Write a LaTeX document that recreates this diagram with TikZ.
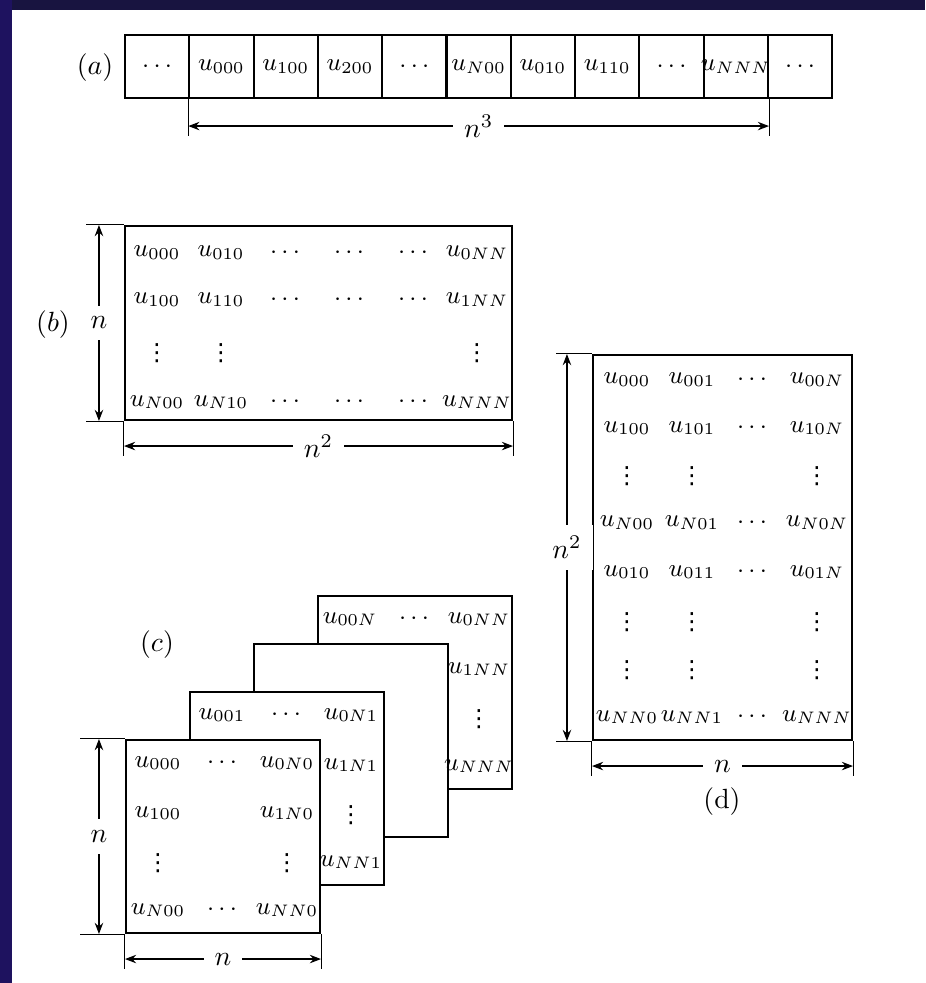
\documentclass[tikz,border=0pt]{standalone}
\usepackage{fontspec}
\newfontfamily\dejavu{DejaVu Sans}
\usetikzlibrary{arrows.meta,fit,calc}
\definecolor{navyL}{RGB}{30,18,95}
\definecolor{navyT}{RGB}{24,20,64}
\newcommand{\vd}{{\dejavu\fontsize{8.5}{10}\selectfont ⋮}}
\begin{document}
\begin{tikzpicture}[x=0.36pt,y=-0.36pt,
  box/.style={draw,line width=0.75pt,fill=white,inner sep=0pt},
  cell/.style={draw,line width=0.75pt,inner sep=0pt,minimum width=23.15pt,minimum height=22.7pt,font=\fontsize{8.6}{10}\selectfont},
  dimline/.style={line width=0.7pt,{Stealth[length=4pt,width=3pt]}-{Stealth[length=4pt,width=3pt]}},
  extline/.style={line width=0.35pt},
  dimlabel/.style={fill=white,inner sep=4pt},
  ent/.style={inner sep=0pt,font=\fontsize{9}{11}\selectfont},
  tag/.style={inner sep=0pt}]
\useasboundingbox (0,0) rectangle (925,983);
\fill[white] (0,0) rectangle (925,983);
\fill[navyT] (0,0) rectangle (925,10);
\fill[navyL] (0,0) rectangle (12,983);

% ---------------- (a)
\node[tag] (taga) at (95,68) {$(a)$};
\foreach \t [count=\i] in {\cdots,u_{000},u_{100},u_{200},\cdots,u_{N00},u_{010},u_{110},\cdots,u_{NNN},\cdots}
  \node[cell] (a\i) at ({125+64.3*(\i-0.5)},66.5) {\makebox[0pt]{$\t$}};
\draw[extline] (a2.south west) -- ++(0,37);
\draw[extline] (a10.south east) -- ++(0,37);
\draw[dimline] ($(a2.south west)+(0,27)$) -- node[dimlabel]{$n^3$} ($(a10.south east)+(0,27)$);

% ---------------- (b)
\node[box,fit={(125,226) (512,420)}] (B) {};
\node[tag] (tagb) at (53,325) {$(b)$};
\foreach \t [count=\c] in {u_{000},u_{010},\cdots,\cdots,\cdots,u_{0NN}}
  \node[ent] (b1\c) at ({157+64*(\c-1)},253) {$\t$};
\foreach \t [count=\c] in {u_{100},u_{110},\cdots,\cdots,\cdots,u_{1NN}}
  \node[ent] (b2\c) at ({157+64*(\c-1)},300) {$\t$};
\foreach \x [count=\c] in {157,221,477}
  \node[ent] (b3\c) at (\x,353) {\vd};
\foreach \t [count=\c] in {u_{N00},u_{N10},\cdots,\cdots,\cdots,u_{NNN}}
  \node[ent] (b4\c) at ({157+64*(\c-1)},402) {$\t$};
\draw[extline] (B.north west) -- ++(-38,0);
\draw[extline] (B.south west) -- ++(-38,0);
\draw[dimline] ($(B.north west)+(-25,0)$) -- node[dimlabel]{$n$} ($(B.south west)+(-25,0)$);
\draw[extline] (B.south west) -- ++(0,35);
\draw[extline] (B.south east) -- ++(0,35);
\draw[dimline] ($(B.south west)+(0,25)$) -- node[dimlabel]{$n^2$} ($(B.south east)+(0,25)$);

% ---------------- (c)
\node[tag] (tagc) at (157,645) {$(c)$};
\foreach \k in {3,2,1,0}
  \node[box,fit={({126+64*\k},{740-48*\k}) ({320+64*\k},{933-48*\k})}] (C\k) {};
% back layer
\foreach \x/\t [count=\c] in {350/u_{00N},414/\cdots,479/u_{0NN}}
  \node[ent] (c3a\c) at (\x,619) {$\t$};
\node[ent] (c3b) at (479,669) {$u_{1NN}$};
\node[ent] (c3c) at (479,719) {\vd};
\node[ent] (c3d) at (479,766) {$u_{NNN}$};
% second layer
\foreach \x/\t [count=\c] in {222/u_{001},286/\cdots,351/u_{0N1}}
  \node[ent] (c1a\c) at (\x,715) {$\t$};
\node[ent] (c1b) at (351,765) {$u_{1N1}$};
\node[ent] (c1c) at (351,815) {\vd};
\node[ent] (c1d) at (351,862) {$u_{NN1}$};
% front layer
\foreach \x/\t [count=\c] in {158/u_{000},222/\cdots,287/u_{0N0}}
  \node[ent] (c0a\c) at (\x,763) {$\t$};
\node[ent] (c0b1) at (158,813) {$u_{100}$};
\node[ent] (c0b2) at (287,813) {$u_{1N0}$};
\node[ent] (c0c1) at (158,863) {\vd};
\node[ent] (c0c2) at (287,863) {\vd};
\foreach \x/\t [count=\c] in {158/u_{N00},222/\cdots,287/u_{NN0}}
  \node[ent] (c0d\c) at (\x,910) {$\t$};
\draw[extline] (C0.north west) -- ++(-45,0);
\draw[extline] (C0.south west) -- ++(-45,0);
\draw[dimline] ($(C0.north west)+(-26,0)$) -- node[dimlabel]{$n$} ($(C0.south west)+(-26,0)$);
\draw[extline] (C0.south west) -- ++(0,35);
\draw[extline] (C0.south east) -- ++(0,35);
\draw[dimline] ($(C0.south west)+(0,25)$) -- node[dimlabel]{$n$} ($(C0.south east)+(0,25)$);

% ---------------- (d)
\node[box,fit={(593,355) (852,740)}] (D) {};
\node[tag] (tagd) at (722,802) {(d)};
\foreach \x/\t [count=\c] in {627/u_{000},692/u_{001},752/\cdots,817/u_{00N}}
  \node[ent] (d1\c) at (\x,380) {$\t$};
\foreach \x/\t [count=\c] in {627/u_{100},692/u_{101},752/\cdots,817/u_{10N}}
  \node[ent] (d2\c) at (\x,428) {$\t$};
\foreach \x [count=\c] in {627,692,817}
  \node[ent] (d3\c) at (\x,476) {\vd};
\foreach \x/\t [count=\c] in {627/u_{N00},692/u_{N01},752/\cdots,817/u_{N0N}}
  \node[ent] (d4\c) at (\x,523) {$\t$};
\foreach \x/\t [count=\c] in {627/u_{010},692/u_{011},752/\cdots,817/u_{01N}}
  \node[ent] (d5\c) at (\x,572) {$\t$};
\foreach \x [count=\c] in {627,692,817}
  \node[ent] (d6\c) at (\x,622) {\vd};
\foreach \x [count=\c] in {627,692,817}
  \node[ent] (d7\c) at (\x,670) {\vd};
\foreach \x/\t [count=\c] in {627/u_{NN0},692/u_{NN1},752/\cdots,817/u_{NNN}}
  \node[ent] (d8\c) at (\x,717) {$\t$};
\draw[extline] (D.north west) -- ++(-36,0);
\draw[extline] (D.south west) -- ++(-36,0);
\draw[dimline] ($(D.north west)+(-25,0)$) -- node[dimlabel]{$n^2$} ($(D.south west)+(-25,0)$);
\draw[extline] (D.south west) -- ++(0,35);
\draw[extline] (D.south east) -- ++(0,35);
\draw[dimline] ($(D.south west)+(0,25)$) -- node[dimlabel]{$n$} ($(D.south east)+(0,25)$);
\end{tikzpicture}
\end{document}
